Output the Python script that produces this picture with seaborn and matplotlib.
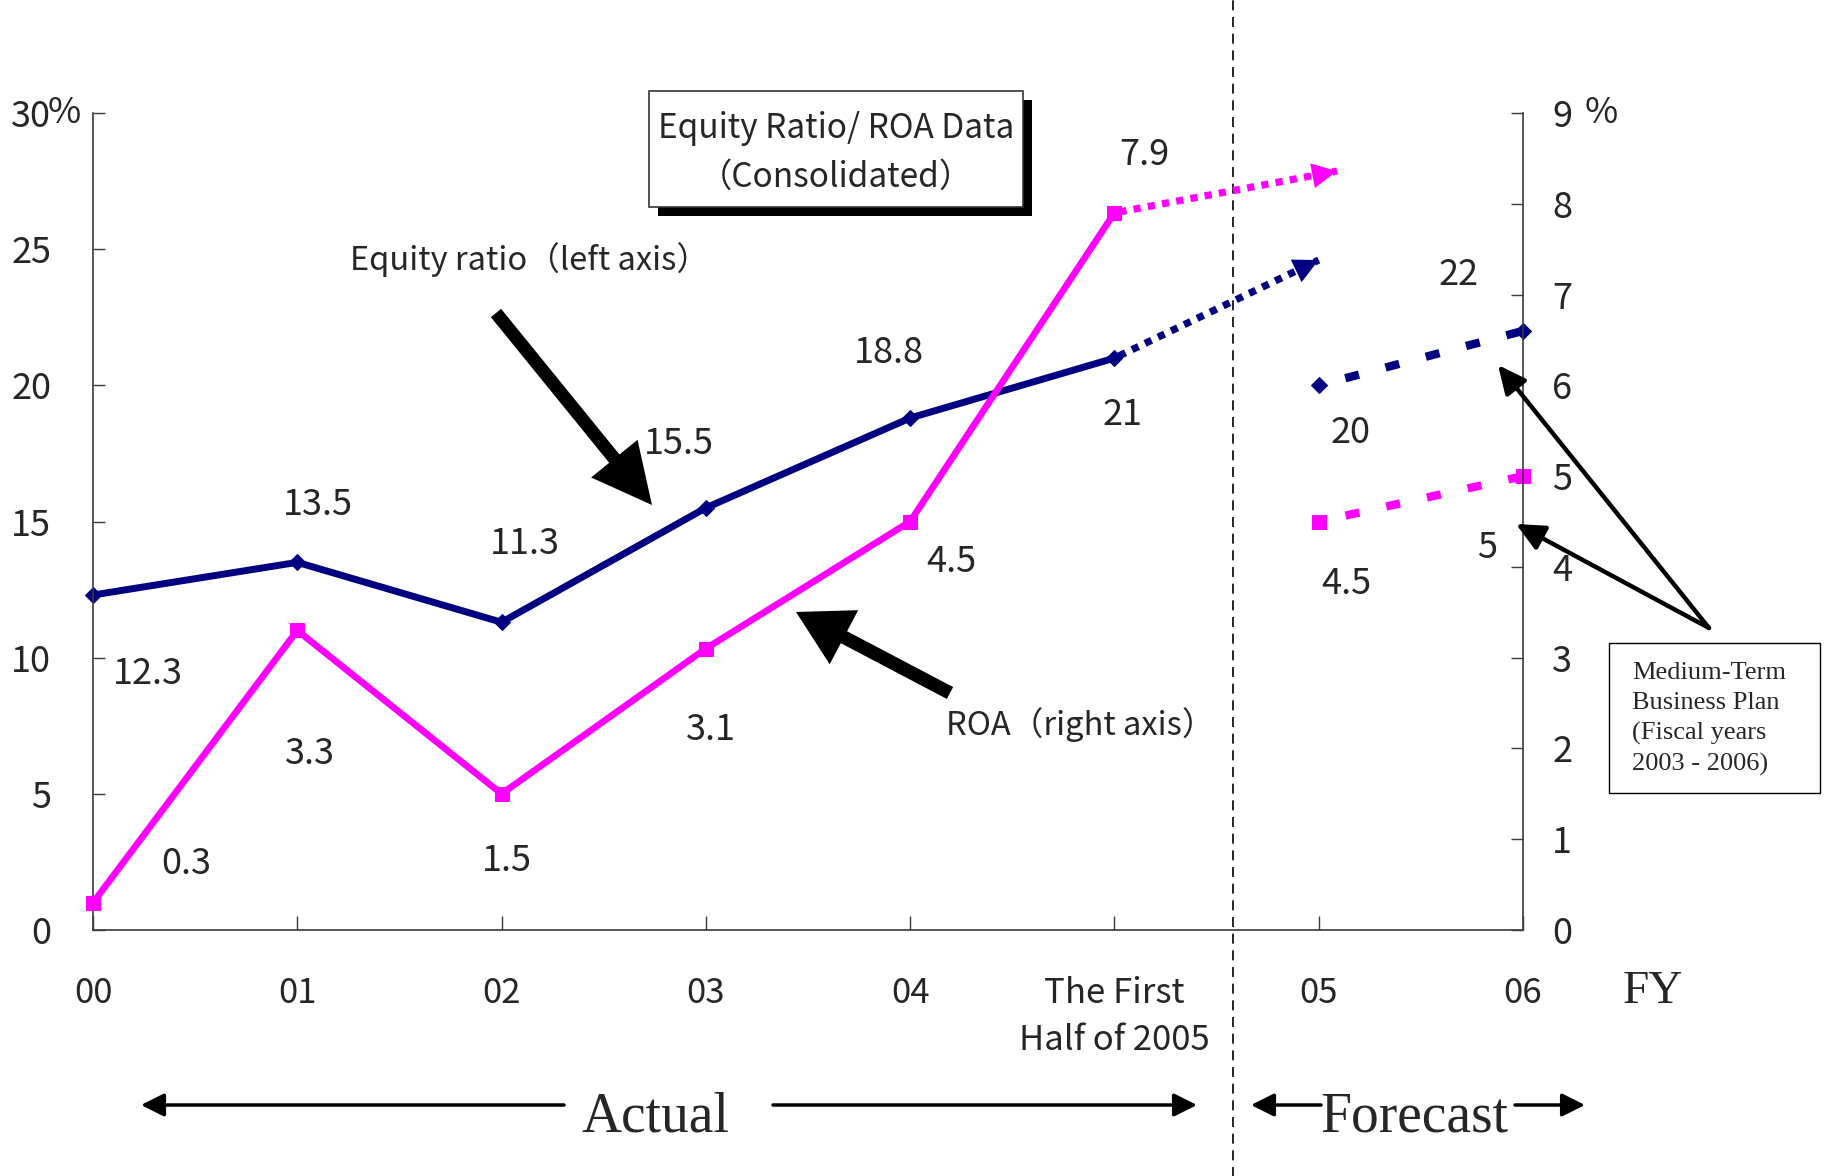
import matplotlib
matplotlib.use("Agg")
import matplotlib.pyplot as plt
import pandas as pd
import seaborn as sns
from matplotlib.patches import Rectangle, FancyArrowPatch

# Fiscal-year positions along the x axis
categories = ["00", "01", "02", "03", "04", "The First\nHalf of 2005", "05", "06"]

# Actual results, FY2000 through the first half of FY2005
equity_actual = [12.3, 13.5, 11.3, 15.5, 18.8, 21]
roa_actual = [0.3, 3.3, 1.5, 3.1, 4.5, 7.9]

# Medium-term business plan targets for FY2005 and FY2006
equity_plan = [20, 22]
roa_plan = [4.5, 5]

# End points of the dotted trend arrows leaving the first half of 2005
equity_trend_tip = [6.0, 24.6]
roa_trend_tip = [6.09, 8.36]

left_ticks = [0, 5, 10, 15, 20, 25, 30]
right_ticks = [0, 1, 2, 3, 4, 5, 6, 7, 8, 9]

NAVY = "#000080"
MAGENTA = "#FF00FF"
W, H = 1832, 1176

sns.set_style("white")
plt.rcParams["font.family"] = ["Noto Sans CJK JP", "DejaVu Sans"]
SERIF = ["Liberation Serif", "DejaVu Serif"]


def fig_xy(x, y):
    """Pixel position measured from the top-left corner -> figure fraction."""
    return (x / W, 1 - y / H)


fig = plt.figure(figsize=(W / 100, H / 100), dpi=100)
ax = fig.add_axes([93 / W, 1 - 930 / H, (1523 - 93) / W, (930 - 113) / H])
ax2 = ax.twinx()

n_act = len(equity_actual)
actual_df = pd.DataFrame({"pos": range(n_act), "equity": equity_actual, "roa": roa_actual})
plan_df = pd.DataFrame({"pos": range(n_act, n_act + len(equity_plan)),
                        "equity": equity_plan, "roa": roa_plan})
eq_trend_df = pd.DataFrame({"pos": [n_act - 1, equity_trend_tip[0]],
                            "equity": [equity_actual[-1], equity_trend_tip[1]]})
roa_trend_df = pd.DataFrame({"pos": [n_act - 1, roa_trend_tip[0]],
                             "roa": [roa_actual[-1], roa_trend_tip[1]]})

# Equity ratio on the left axis
sns.lineplot(data=actual_df, x="pos", y="equity", ax=ax, color=NAVY, lw=5,
             marker="D", markersize=8, markeredgecolor=NAVY, clip_on=False)
sns.lineplot(data=eq_trend_df, x="pos", y="equity", ax=ax, color=NAVY, lw=5.2,
             linestyle=(1.3, (1, 1)), clip_on=False)
sns.lineplot(data=plan_df, x="pos", y="equity", ax=ax, color=NAVY, lw=6,
             linestyle=(1.7, (1.7, 3.3)), marker="D", markersize=8.5,
             markeredgecolor=NAVY, clip_on=False)

# ROA on the right axis
sns.lineplot(data=actual_df, x="pos", y="roa", ax=ax2, color=MAGENTA, lw=4.8,
             marker="s", markersize=9.5, markeredgecolor=MAGENTA, clip_on=False)
sns.lineplot(data=roa_trend_df, x="pos", y="roa", ax=ax2, color=MAGENTA, lw=5.2,
             linestyle=(1.3, (1, 1)), clip_on=False)
sns.lineplot(data=plan_df, x="pos", y="roa", ax=ax2, color=MAGENTA, lw=6,
             linestyle=(1.7, (1.7, 3.3)), marker="s", markersize=9.5,
             markeredgecolor=MAGENTA, clip_on=False)

# Arrow heads on the trend lines
for axis, tip, start, col in [
    (ax, equity_trend_tip, (n_act - 1, equity_actual[-1]), NAVY),
    (ax2, roa_trend_tip, (n_act - 1, roa_actual[-1]), MAGENTA),
]:
    mid = (start[0] + 0.8 * (tip[0] - start[0]), start[1] + 0.8 * (tip[1] - start[1]))
    axis.annotate("", xy=tuple(tip), xytext=mid,
                  arrowprops=dict(arrowstyle="-|>,head_length=0.9,head_width=0.45",
                                  mutation_scale=20, color=col, lw=0,
                                  shrinkA=0, shrinkB=0), annotation_clip=False)

# Value labels
label_size = 26
eq_offsets = [(55, -79), (21, 57), (23, 78), (-27, 64), (-21, 65), (8, -57)]
eq_plan_offsets = [(32, -48), (-64, 56)]
roa_offsets = [(93, 39), (13, -124), (5, -67), (5, -81), (41, -41), (30, 58)]
roa_plan_offsets = [(28, -63), (-36, -72)]

for axis, xs, vals, offs in [
    (ax, actual_df["pos"], equity_actual, eq_offsets),
    (ax, plan_df["pos"], equity_plan, eq_plan_offsets),
    (ax2, actual_df["pos"], roa_actual, roa_offsets),
    (ax2, plan_df["pos"], roa_plan, roa_plan_offsets),
]:
    for x, v, off in zip(xs, vals, offs):
        axis.annotate(f"{v:g}", xy=(x, v), xytext=off, textcoords="offset pixels",
                      ha="center", va="center", fontsize=label_size,
                      annotation_clip=False)

# Axes, spines and ticks
ax.set_xlim(0, 7)
ax.set_ylim(0, 30)
ax2.set_ylim(0, 9)
ax.set_xticks(range(len(categories)))
ax.set_xticklabels(categories, linespacing=1.45)
ax.set_yticks(left_ticks)
ax2.set_yticks(right_ticks)
ax.set_xlabel("")
ax.set_ylabel("")
ax2.set_ylabel("")

spine_col = "#3a3a3a"
for s in ["top", "right"]:
    ax.spines[s].set_visible(False)
for s in ["top", "left", "bottom"]:
    ax2.spines[s].set_visible(False)
for sp in [ax.spines["left"], ax.spines["bottom"], ax2.spines["right"]]:
    sp.set_color(spine_col)
    sp.set_linewidth(1.2)

ax.tick_params(axis="x", direction="in", length=10, width=1.0, color=spine_col,
               pad=33, labelsize=25, bottom=True)
ax.tick_params(axis="y", direction="in", length=8.6, width=1.0, color=spine_col,
               pad=30, labelsize=26, left=True)
ax2.tick_params(axis="y", direction="in", length=8.6, width=1.0, color=spine_col,
                pad=21, labelsize=26, right=True)

# Unit marks above both value axes
ax.text(-0.02, 1.0, "%", transform=ax.transAxes, ha="center", va="center", fontsize=26)
ax.text(1.0545, 1.0, "%", transform=ax.transAxes, ha="center", va="center", fontsize=26)

# Divider between actual and forecast
ax.axvline(5.58, ymin=-0.32, ymax=1.15, clip_on=False, color="black", lw=1.2,
           linestyle=(0, (6, 4)))

# Title box with drop shadow
x0, y0, x1, y1 = 649, 91, 1023, 207
shadow = Rectangle(fig_xy(x0 + 9, y1 + 9), (x1 - x0) / W, (y1 - y0) / H,
                   transform=fig.transFigure, facecolor="black", edgecolor="black", lw=0)
box = Rectangle(fig_xy(x0, y1), (x1 - x0) / W, (y1 - y0) / H,
                transform=fig.transFigure, facecolor="white", edgecolor="#333333", lw=1.2)
fig.add_artist(shadow)
fig.add_artist(box)
fig.text(*fig_xy(836, 128), "Equity Ratio/ ROA Data", ha="center", va="center", fontsize=24)
fig.text(*fig_xy(836, 177), "（Consolidated）", ha="center", va="center", fontsize=24)

# Series call-outs
fig.text(*fig_xy(529, 260), "Equity ratio（left axis）", ha="center", va="center", fontsize=23.5)
fig.text(*fig_xy(1080, 725), "ROA（right axis）", ha="center", va="center", fontsize=23.5)


def fig_arrow(tail, tip, style, lw=0):
    fig.add_artist(FancyArrowPatch(
        fig_xy(*tail), fig_xy(*tip), transform=fig.transFigure,
        arrowstyle=style, mutation_scale=10, color="black", lw=lw,
        shrinkA=0, shrinkB=0))


fig_arrow((496, 313), (652, 505), "simple,head_length=4.3,head_width=4.3,tail_width=0.95")
fig_arrow((950, 693), (796, 612), "simple,head_length=3.9,head_width=4.4,tail_width=0.97")

# Medium-term plan note
mx0, my0, mx1, my1 = 1609, 643, 1820, 793
fig.add_artist(Rectangle(fig_xy(mx0, my1), (mx1 - mx0) / W, (my1 - my0) / H,
                         transform=fig.transFigure, facecolor="white",
                         edgecolor="black", lw=1.0))
fig.text(*fig_xy(1632, 719), "Medium-Term\nBusiness Plan\n(Fiscal years\n2003 - 2006)",
         ha="left", va="center", fontsize=19, family=SERIF, linespacing=1.45)
fig_arrow((1709, 628), (1498, 365), "-|>,head_length=1.7,head_width=0.8", lw=3.2)
fig_arrow((1709, 628), (1516, 524), "-|>,head_length=1.7,head_width=0.8", lw=3.2)

# Actual / Forecast span markers
fig.text(*fig_xy(1653, 992), "FY", ha="center", va="center", fontsize=34, family=SERIF)
fig.text(*fig_xy(656, 1118), "Actual", ha="center", va="center", fontsize=40, family=SERIF)
fig.text(*fig_xy(1414, 1118), "Forecast", ha="center", va="center", fontsize=40, family=SERIF)
span_style = "-|>,head_length=1.4,head_width=0.7"
fig_arrow((564, 1105), (141, 1105), span_style, lw=2.5)
fig_arrow((773, 1105), (1197, 1105), span_style, lw=2.5)
fig_arrow((1321, 1105), (1251, 1105), span_style, lw=2.5)
fig_arrow((1515, 1105), (1585, 1105), span_style, lw=2.5)

fig.savefig("out.png", dpi=100)
